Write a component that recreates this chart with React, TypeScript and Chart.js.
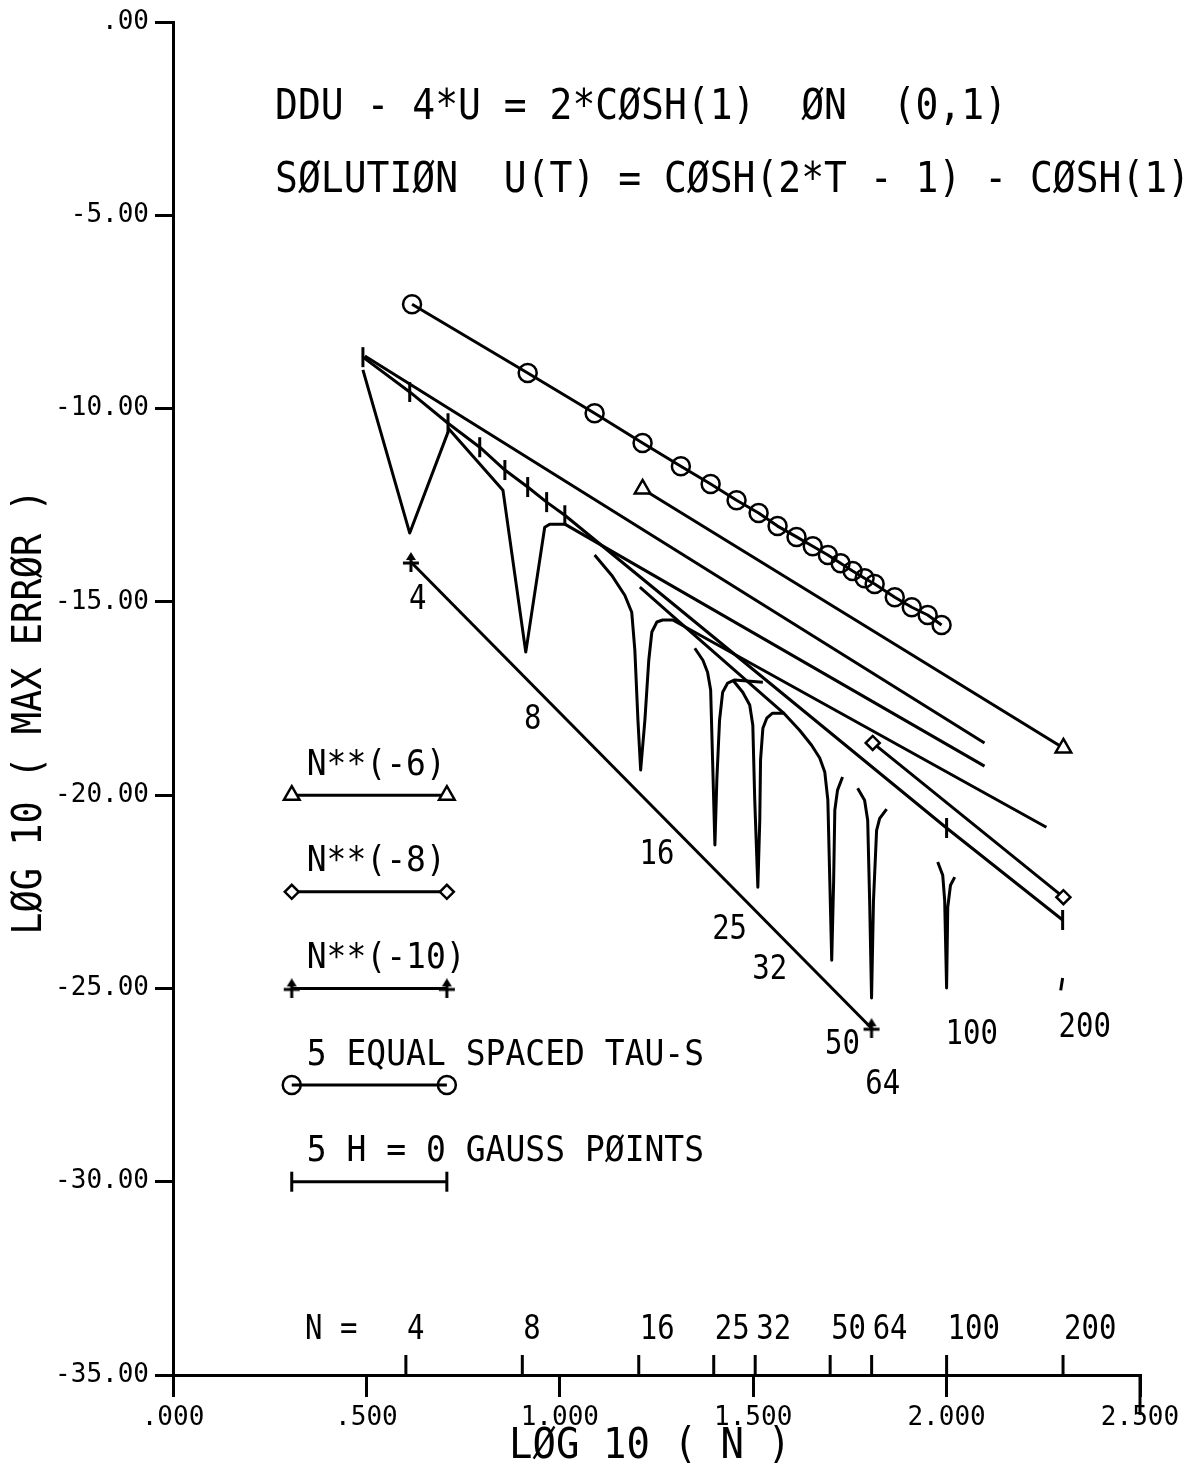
import React, { useEffect, useRef } from "react";
import { Chart, registerables } from "chart.js";

Chart.register(...registerables);

const FONT = '"DejaVu Sans Mono", "Liberation Mono", monospace';

// ---- axes ----
const xTickValues = [0, 0.5, 1, 1.5, 2, 2.5];
const xTickLabels = [".000", ".500", "1.000", "1.500", "2.000", "2.500"];
const yTickValues = [0, -5, -10, -15, -20, -25, -30, -35];
const yTickLabels = [".00", "-5.00", "-10.00", "-15.00", "-20.00", "-25.00", "-30.00", "-35.00"];
const nTickValues = [4, 8, 16, 25, 32, 50, 64, 100, 200];
const nTickLabels = ["4", "8", "16", "25", "32", "50", "64", "100", "200"];

// ---- texts ----
const titleLine1 = "DDU - 4*U = 2*CØSH(1)  ØN  (0,1)";
const titleLine2 = "SØLUTIØN  U(T) = CØSH(2*T - 1) - CØSH(1)";
const xTitle = "LØG 10 ( N )";
const yTitle = "LØG 10 ( MAX ERRØR )";

// ---- 5 equal spaced tau-s (circles) ----
const tauX = [0.618, 0.917, 1.09, 1.214, 1.313, 1.39, 1.457, 1.514, 1.563, 1.612, 1.654, 1.693, 1.726, 1.757, 1.788, 1.814, 1.866, 1.91, 1.951, 1.987];
const tauY = [-7.3, -9.08, -10.12, -10.89, -11.49, -11.95, -12.37, -12.7, -13.04, -13.32, -13.56, -13.79, -14.0, -14.2, -14.39, -14.54, -14.88, -15.14, -15.34, -15.6];

// ---- reference slopes ----
const n6X = [1.214, 2.302];
const n6Y = [-12.08, -18.78];
const n8X = [1.809, 2.302];
const n8Y = [-18.65, -22.64];
const n10X = [0.615, 1.806];
const n10Y = [-13.97, -26.03];

// ---- 5 H = 0 Gauss points ----
const gaussX = [0.491, 0.612, 0.711, 0.793, 0.858, 0.917, 0.966, 1.013, 2.0, 2.3];
const gaussY = [-8.67, -9.57, -10.38, -11.0, -11.59, -12.03, -12.42, -12.76, -20.85, -23.23];

// ---- other curves ----
const lineAX = [0.496, 2.098];
const lineAY = [-8.64, -18.65];
const curve4X = [0.491, 0.612, 0.711];
const curve4Y = [-9.0, -13.22, -10.61];
const curve8X = [0.711, 0.853, 0.912, 0.961, 0.974, 1.013, 2.098];
const curve8Y = [-10.5, -12.11, -16.3, -13.07, -12.99, -12.99, -19.25];
const curve16X = [1.09, 1.134, 1.168, 1.186, 1.194, 1.202, 1.209, 1.22, 1.23, 1.238, 1.251, 1.266, 1.292, 2.258];
const curve16Y = [-13.79, -14.31, -14.83, -15.27, -16.25, -18.06, -19.35, -18.06, -16.51, -15.78, -15.52, -15.47, -15.47, -20.83];
const curve25X = [1.349, 1.37, 1.382, 1.39, 1.395, 1.401, 1.406, 1.413, 1.421, 1.434, 1.452, 1.525];
const curve25Y = [-16.2, -16.51, -16.82, -17.28, -19.09, -21.29, -19.61, -18.06, -17.34, -17.1, -17.02, -17.08];
const curve32X = [1.447, 1.473, 1.491, 1.499, 1.504, 1.512, 1.517, 1.519, 1.525, 1.535, 1.55, 1.581];
const curve32Y = [-17.02, -17.34, -17.67, -18.19, -20.13, -22.38, -20.65, -19.09, -18.27, -18.01, -17.88, -17.88];
const curve50X = [1.207, 1.292, 1.581, 1.62, 1.651, 1.672, 1.685, 1.693, 1.698, 1.703, 1.708, 1.711, 1.718, 1.731];
const curve50Y = [-14.62, -15.37, -17.9, -18.32, -18.71, -19.04, -19.4, -20.13, -22.2, -24.27, -22.2, -20.39, -19.87, -19.53];
const curve64X = [1.77, 1.788, 1.796, 1.801, 1.806, 1.811, 1.819, 1.827, 1.845];
const curve64Y = [-19.82, -20.13, -20.65, -22.72, -25.25, -22.72, -20.91, -20.6, -20.36];
const curve100X = [1.977, 1.99, 1.995, 2.0, 2.003, 2.01, 2.021];
const curve100Y = [-21.73, -22.07, -22.72, -24.99, -22.9, -22.33, -22.12];
const curve200X = [2.3, 2.295];
const curve200Y = [-24.73, -25.05];

// ---- curve labels ----
const dipLabels = ["4", "8", "16", "25", "32", "50", "64", "100", "200"];
const dipLabelX = [0.633, 0.93, 1.251, 1.439, 1.543, 1.731, 1.835, 2.065, 2.357];
const dipLabelY = [-14.96, -18.06, -21.55, -23.49, -24.53, -26.47, -27.5, -26.21, -26.03];

// ---- legend ----
const legendLabels = ["N**(-6)", "N**(-8)", "N**(-10)", "5 EQUAL SPACED TAU-S", "5 H = 0 GAUSS PØINTS"];
const legendY = [-20, -22.5, -25, -27.5, -30];
const legendX = [0.307, 0.708];

const pts = (xs: number[], ys: number[]) => xs.map((x, i) => ({ x, y: ys[i] }));

function makeArrowMarker(): HTMLCanvasElement {
  const c = document.createElement("canvas");
  c.width = 18;
  c.height = 20;
  const g = c.getContext("2d")!;
  g.strokeStyle = "#000";
  g.fillStyle = "#000";
  g.lineWidth = 3;
  g.beginPath();
  g.moveTo(9, 5);
  g.lineTo(9, 20);
  g.stroke();
  g.beginPath();
  g.moveTo(1, 11);
  g.lineTo(17, 11);
  g.stroke();
  g.beginPath();
  g.moveTo(9, 0);
  g.lineTo(4, 8);
  g.lineTo(14, 8);
  g.closePath();
  g.fill();
  return c;
}

function drawText(ctx: CanvasRenderingContext2D, s: string, x: number, y: number, size: number, align: CanvasTextAlign, sy: number, rot = 0) {
  ctx.save();
  ctx.translate(x, y);
  if (rot) ctx.rotate(rot);
  ctx.scale(1, sy);
  ctx.font = `${size}px ${FONT}`;
  ctx.textAlign = align;
  ctx.textBaseline = "middle";
  ctx.fillText(s, 0, 0);
  ctx.restore();
}

const annotationPlugin = {
  id: "annotations",
  afterDraw(chart: any) {
    const { ctx, chartArea } = chart;
    const xs = chart.scales.x;
    const ys = chart.scales.y;
    ctx.save();
    ctx.fillStyle = "#000";
    ctx.strokeStyle = "#000";
    ctx.lineWidth = 3;

    // titles
    drawText(ctx, titleLine1, chartArea.left + 102, chartArea.top + 86, 38, "left", 1.1);
    drawText(ctx, titleLine2, chartArea.left + 102, chartArea.top + 159, 38, "left", 1.1);

    // N ticks above the x axis
    nTickValues.forEach((n, i) => {
      const px = xs.getPixelForValue(Math.log10(n));
      ctx.beginPath();
      ctx.moveTo(px, chartArea.bottom);
      ctx.lineTo(px, chartArea.bottom - 20);
      ctx.stroke();
      drawText(ctx, nTickLabels[i], px + 1, chartArea.bottom - 45, 29, "left", 1.18);
    });
    drawText(ctx, "N =", chartArea.left + 132, chartArea.bottom - 45, 29, "left", 1.18);

    // longer end tick at 2.5
    const pEnd = xs.getPixelForValue(2.5);
    ctx.beginPath();
    ctx.moveTo(pEnd, chartArea.bottom);
    ctx.lineTo(pEnd, chartArea.bottom + 40);
    ctx.stroke();

    // curve labels
    dipLabels.forEach((s, i) => {
      drawText(ctx, s, xs.getPixelForValue(dipLabelX[i]), ys.getPixelForValue(dipLabelY[i]), 29, "center", 1.18);
    });

    // legend labels
    legendLabels.forEach((s, i) => {
      drawText(ctx, s, xs.getPixelForValue(legendX[0]) + 15, ys.getPixelForValue(legendY[i]) - 30, 33, "left", 1.1);
    });

    // axis titles
    drawText(ctx, xTitle, 650, chartArea.bottom + 72, 39, "center", 1.1);
    drawText(ctx, yTitle, 30, 712, 37, "center", 1.1, -Math.PI / 2);
    ctx.restore();
  },
};

export default function App() {
  const ref = useRef<HTMLCanvasElement | null>(null);

  useEffect(() => {
    document.body.style.margin = "0";
    const arrow = makeArrowMarker();
    const base = {
      showLine: true,
      borderColor: "#000",
      borderWidth: 3,
      tension: 0,
      pointRadius: 0,
      pointHoverRadius: 0,
      borderJoinStyle: "round" as const,
      pointBorderColor: "#000",
      pointBorderWidth: 2.5,
    };
    const circ = { pointStyle: "circle", pointRadius: 9, pointBackgroundColor: "rgba(0,0,0,0)" };
    const tri = { pointStyle: "triangle", pointRadius: 9, pointBackgroundColor: "#fff" };
    const dia = { pointStyle: "rectRot", pointRadius: 7, pointBackgroundColor: "#fff" };
    const arr = { pointStyle: arrow, pointRadius: 9 };
    const tick = { pointStyle: "line", pointRadius: 10, pointRotation: 90, pointBorderWidth: 3 };

    const datasets: any[] = [
      { ...base, ...circ, data: pts(tauX, tauY) },
      { ...base, ...tri, data: pts(n6X, n6Y) },
      { ...base, ...dia, data: pts(n8X, n8Y) },
      { ...base, ...arr, data: pts(n10X, n10Y) },
      { ...base, ...tick, data: pts(gaussX, gaussY) },
      { ...base, data: pts(lineAX, lineAY) },
      { ...base, data: pts(curve4X, curve4Y) },
      { ...base, data: pts(curve8X, curve8Y) },
      { ...base, data: pts(curve16X, curve16Y) },
      { ...base, data: pts(curve25X, curve25Y) },
      { ...base, data: pts(curve32X, curve32Y) },
      { ...base, data: pts(curve50X, curve50Y) },
      { ...base, data: pts(curve64X, curve64Y) },
      { ...base, data: pts(curve100X, curve100Y) },
      { ...base, data: pts(curve200X, curve200Y) },
      // legend samples
      { ...base, ...tri, data: pts(legendX, [legendY[0], legendY[0]]) },
      { ...base, ...dia, data: pts(legendX, [legendY[1], legendY[1]]) },
      { ...base, ...arr, data: pts(legendX, [legendY[2], legendY[2]]) },
      { ...base, ...circ, data: pts(legendX, [legendY[3], legendY[3]]) },
      { ...base, ...tick, data: pts(legendX, [legendY[4], legendY[4]]) },
    ];

    const chart = new Chart(ref.current!, {
      type: "scatter",
      data: { datasets },
      options: {
        responsive: false,
        devicePixelRatio: 1,
        animation: false,
        events: [],
        layout: { padding: { top: 22, right: 54, left: 0, bottom: 0 } },
        plugins: { legend: { display: false }, tooltip: { enabled: false }, title: { display: false } },
        scales: {
          x: {
            type: "linear",
            min: 0,
            max: 2.5,
            afterBuildTicks: (s: any) => {
              s.ticks = xTickValues.map((v) => ({ value: v }));
            },
            afterFit: (s: any) => {
              s.height = 104;
            },
            border: { display: true, color: "#000", width: 3 },
            grid: { drawOnChartArea: false, drawTicks: true, tickLength: 22, color: "#000", lineWidth: 3 },
            ticks: {
              autoSkip: false,
              maxRotation: 0,
              padding: 6,
              color: "#000",
              font: { family: FONT, size: 26 },
              callback: (v: any) => xTickLabels[xTickValues.indexOf(Number(v))],
            },
          },
          y: {
            type: "linear",
            min: -35,
            max: 0,
            afterBuildTicks: (s: any) => {
              s.ticks = yTickValues.map((v) => ({ value: v }));
            },
            afterFit: (s: any) => {
              s.width = 173;
            },
            border: { display: true, color: "#000", width: 3 },
            grid: { drawOnChartArea: false, drawTicks: true, tickLength: 18, color: "#000", lineWidth: 3 },
            ticks: {
              autoSkip: false,
              padding: 6,
              color: "#000",
              font: { family: FONT, size: 26 },
              callback: (v: any) => yTickLabels[yTickValues.indexOf(Number(v))],
            },
          },
        },
      },
      plugins: [annotationPlugin],
    });
    return () => chart.destroy();
  }, []);

  return (
    <div style={{ position: "absolute", left: 0, top: 0, width: 1194, height: 1479, background: "#fff" }}>
      <canvas ref={ref} width={1194} height={1479} style={{ display: "block" }} />
    </div>
  );
}
